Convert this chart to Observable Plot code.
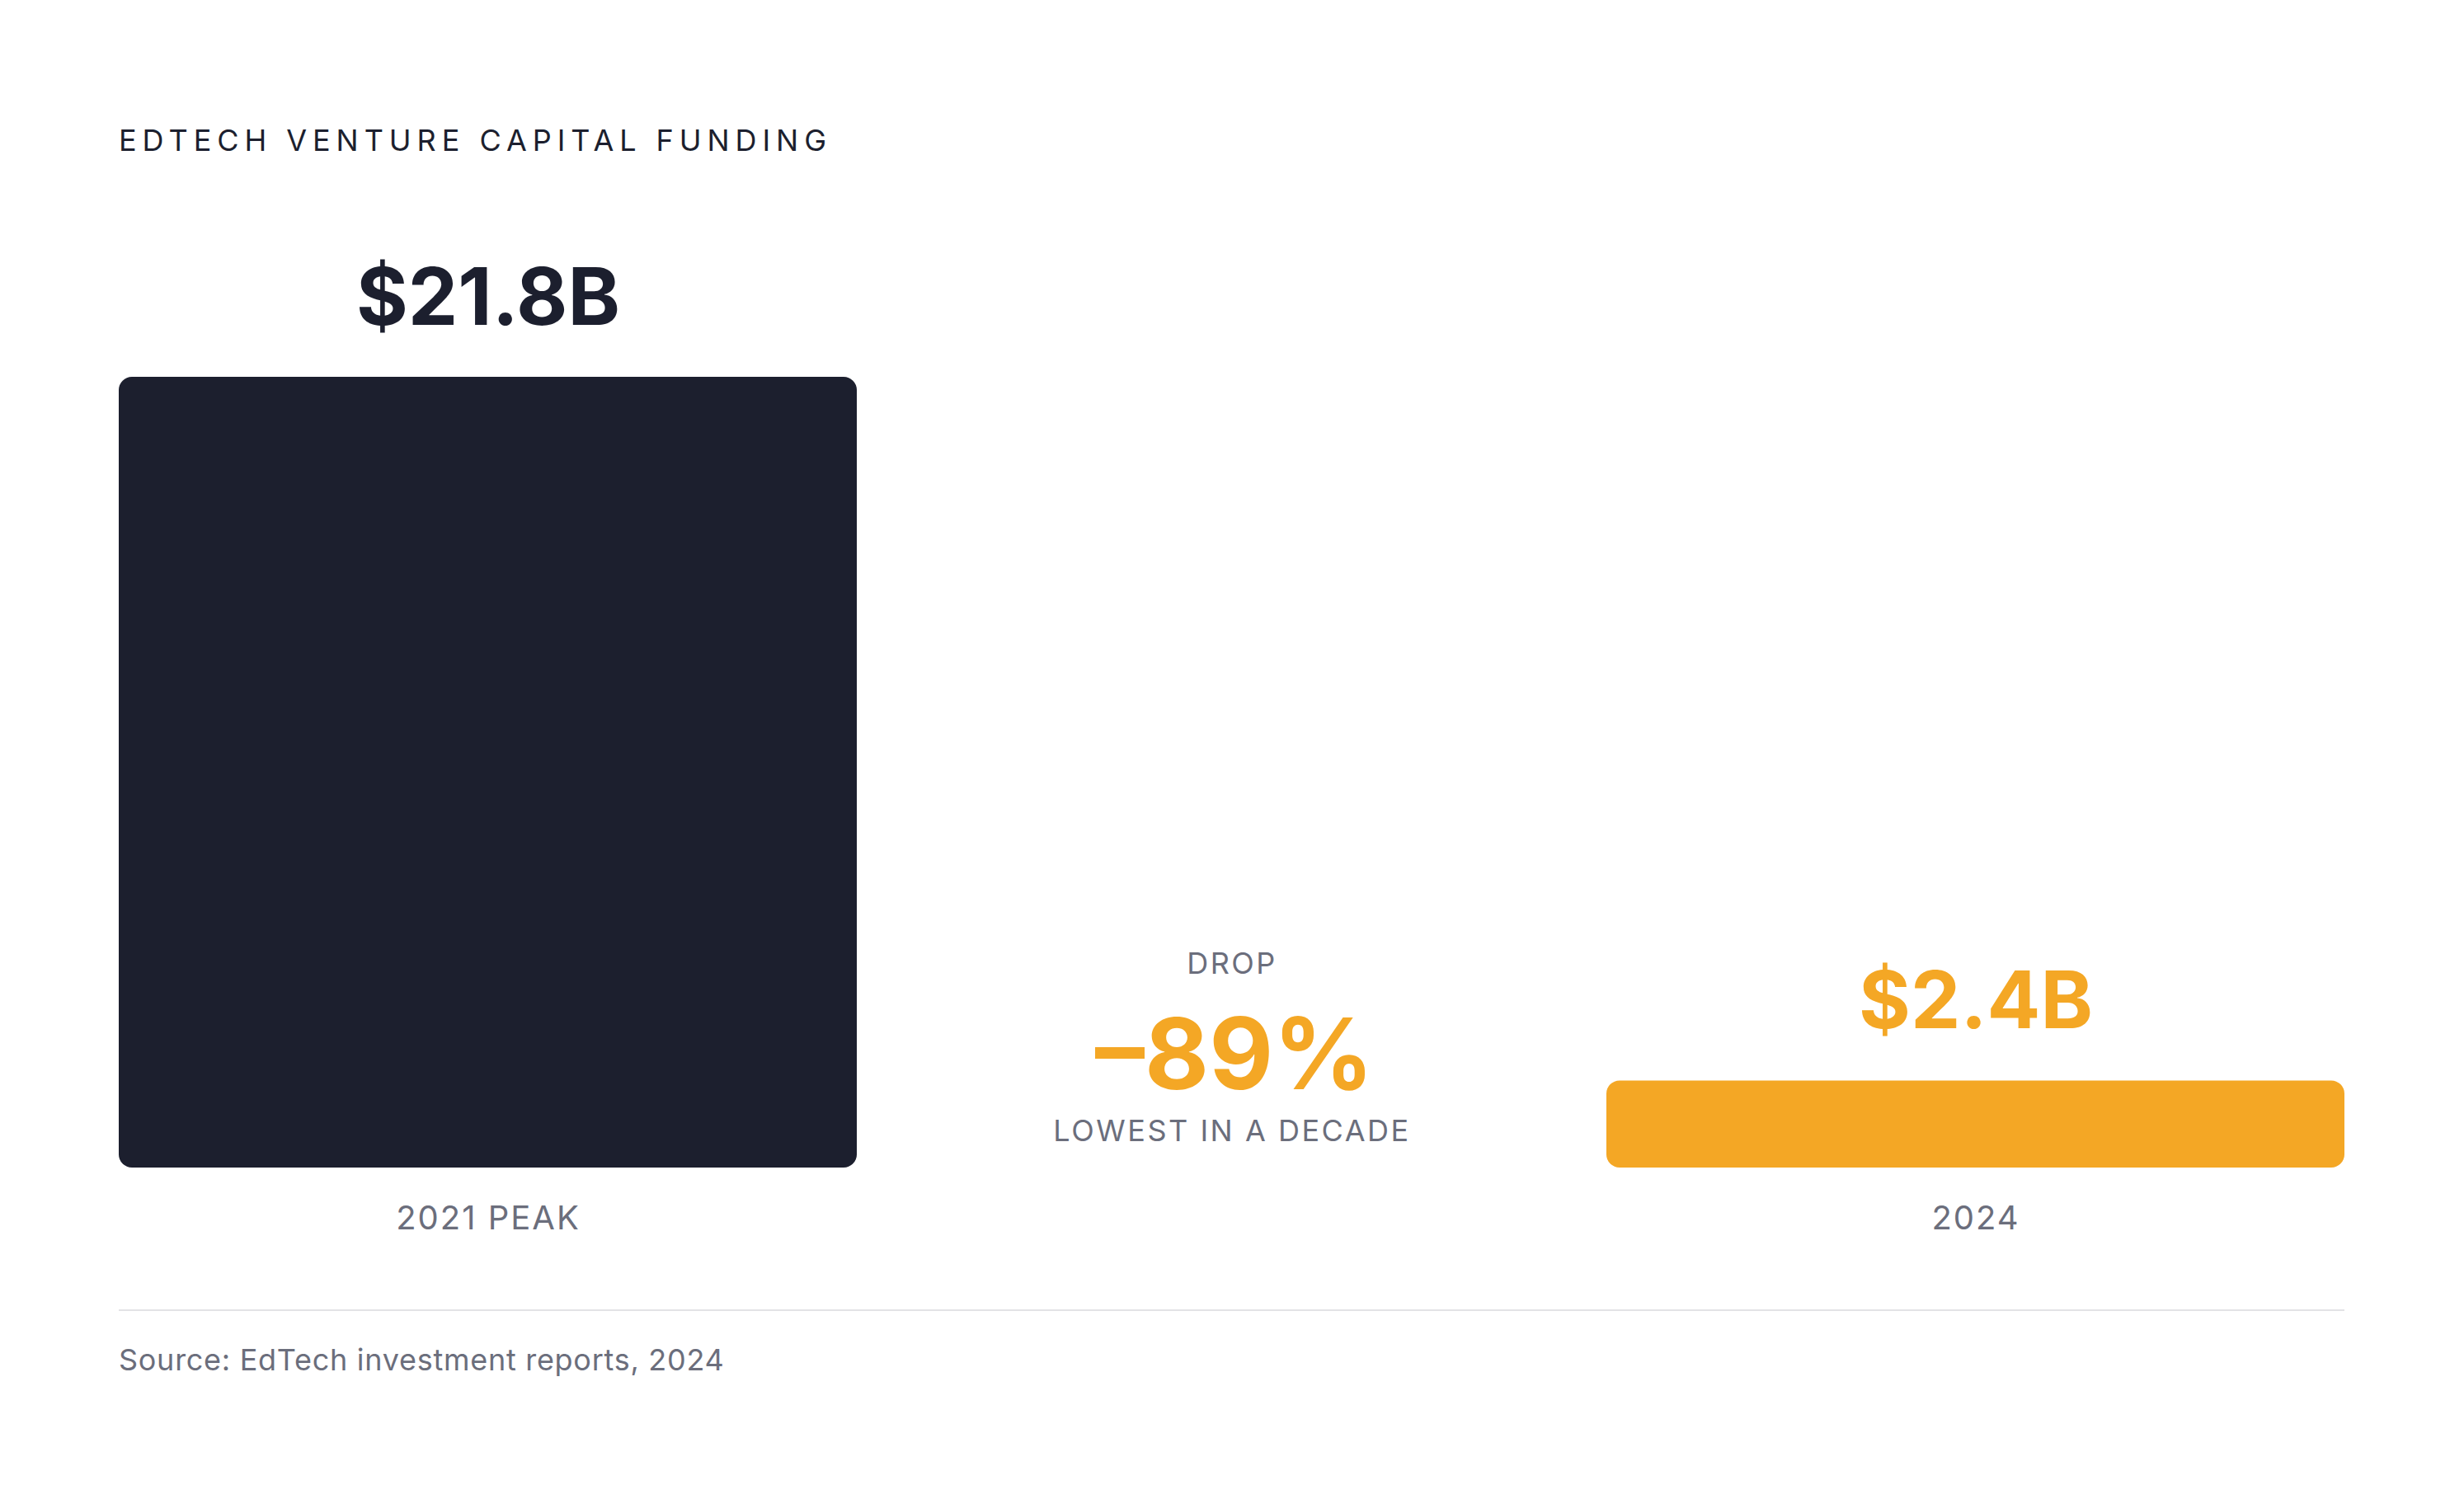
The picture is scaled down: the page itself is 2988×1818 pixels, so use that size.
<!DOCTYPE html>
<html>
<head>
<meta charset="utf-8">
<script src="https://cdn.jsdelivr.net/npm/d3@7"></script>
<script src="https://cdn.jsdelivr.net/npm/@observablehq/plot@0.6"></script>
<style>
  html, body { margin: 0; padding: 0; background: #ffffff; }
  body { width: 2988px; height: 1818px; position: relative; font-family: Inter, "Noto Sans", sans-serif; overflow: hidden; }
  #title { position: absolute; left: 144px; top: 152px; font-size: 36px; line-height: 36px; letter-spacing: 0.193em; color: #1c1f2e; font-weight: 400; white-space: nowrap; }
  #chart { position: absolute; left: 0; top: 250px; }
  #divider { position: absolute; left: 144px; top: 1588px; width: 2699px; height: 2px; background: #e3e3e6; }
  #source { position: absolute; left: 144px; top: 1631px; font-size: 36px; line-height: 36px; letter-spacing: 0.02em; color: #6b6e7c; white-space: nowrap; }
</style>
</head>
<body>
<div id="title">EDTECH VENTURE CAPITAL FUNDING</div>
<div id="chart"></div>
<div id="divider"></div>
<div id="source">Source: EdTech investment reports, 2024</div>
<script>
// Data
const bandOrder = ["2021 PEAK", "DROP", "2024"];
const categories = ["2021 PEAK", "2024"];
const values = [21.8, 2.4];
const valueLabels = ["$21.8B", "$2.4B"];
const barColors = ["#1c1f2e", "#f4a725"];
const dropCategory = "DROP";
const dropLabel = "DROP";
const dropValue = "–89%";
const dropNote = "LOWEST IN A DECADE";

const bars = categories.map((c, i) => ({category: c, value: values[i], label: valueLabels[i], color: barColors[i]}));
const mid = [{category: dropCategory}];

const plot = Plot.plot({
  width: 2988,
  height: 1266,
  marginLeft: 144,
  marginRight: 145,
  marginTop: 207,
  marginBottom: 100,
  style: {fontFamily: "Inter, 'Noto Sans', sans-serif", background: "transparent"},
  x: {type: "band", domain: bandOrder, paddingInner: 0.008, paddingOuter: 0, axis: null},
  y: {domain: [0, 21.8], axis: null},
  marks: [
    Plot.barY(bars, {x: "category", y: "value", fill: "color", rx: 16}),
    Plot.text(bars, {x: "category", y: "value", text: "label", fill: "color", fontSize: 96, fontWeight: 700, lineAnchor: "bottom", dy: -64}),
    Plot.text(bars, {x: "category", y: 0, text: "category", fill: "#6b6e7c", fontSize: 40, fontWeight: 400, lineAnchor: "bottom", dy: 74}),
    Plot.text(mid, {x: "category", y: 0, text: () => dropLabel, fill: "#6b6e7c", fontSize: 36, lineAnchor: "bottom", dy: -236}),
    Plot.text(mid, {x: "category", y: 0, text: () => dropValue, fill: "#f4a725", fontSize: 120, fontWeight: 700, lineAnchor: "bottom", dy: -96, dx: 3}),
    Plot.text(mid, {x: "category", y: 0, text: () => dropNote, fill: "#6b6e7c", fontSize: 36, lineAnchor: "bottom", dy: -33})
  ]
});
// letter spacing for the small uppercase labels
d3.select(plot).selectAll("text").each(function () {
  const t = this.textContent;
  if (categories.includes(t)) this.style.letterSpacing = "0.05em";
  else if (t === dropLabel || t === dropNote) this.style.letterSpacing = "0.07em";
});
document.getElementById("chart").appendChild(plot);
</script>
</body>
</html>
